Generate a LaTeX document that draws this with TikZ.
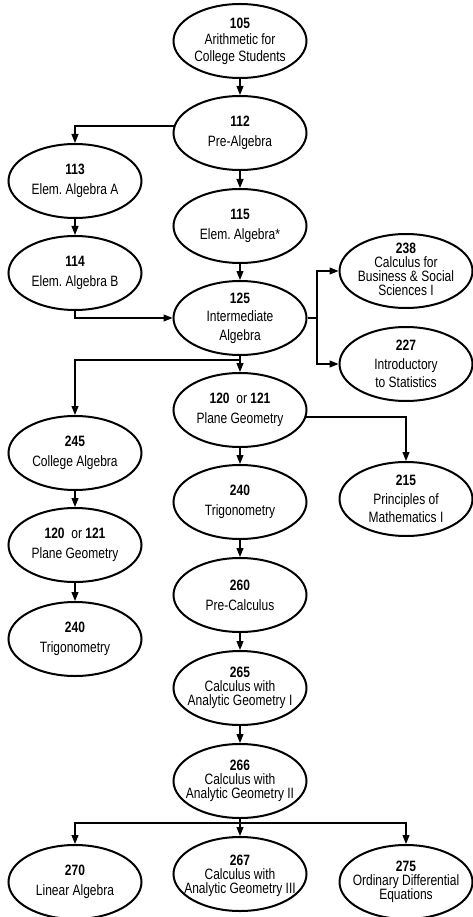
\documentclass[tikz,border=0pt]{standalone}
\usepackage{fontspec}
\setmainfont{Liberation Sans}[FakeStretch=0.8]
\usetikzlibrary{shapes.geometric,arrows.meta}
\frenchspacing
\begin{document}
\begin{tikzpicture}[x=1pt,y=-1pt,
  ell/.style={ellipse,draw,line width=2pt,minimum width=133pt,minimum height=74pt,inner sep=0pt},
  txt/.style={align=center,inner sep=0pt,font=\fontsize{15}{20}\selectfont},
  tl/.style={font=\fontsize{15}{18.5}\selectfont},
  tm/.style={font=\fontsize{15}{16.5}\selectfont},
  tt/.style={font=\fontsize{15}{14}\selectfont},
  con/.style={line width=1.1pt,-{Triangle[length=9pt,width=7pt]}},
  ln/.style={line width=1.1pt}]
\useasboundingbox (0,0) rectangle (473,917);
% ellipses
\node[ell] (e105) at (240,41) {};
\node[ell] (e112) at (240,133) {};
\node[ell] (e113) at (75,181) {};
\node[ell] (e115) at (240,226) {};
\node[ell] (e114) at (75,273) {};
\node[ell] (e125) at (240,318) {};
\node[ell] (e238) at (406,271) {};
\node[ell] (e227) at (406,364) {};
\node[ell] (e120) at (240,410) {};
\node[ell] (e245) at (75,453) {};
\node[ell] (e215) at (406,499) {};
\node[ell] (e240) at (240,502) {};
\node[ell] (e120l) at (75,545) {};
\node[ell] (e260) at (240,595) {};
\node[ell] (e240l) at (75,639) {};
\node[ell] (e265) at (240,688) {};
\node[ell] (e266) at (240,781) {};
\node[ell] (e267) at (240,874) {};
\node[ell] (e270) at (75,882) {};
\node[ell] (e275) at (406,882) {};
% texts
\node[txt,tm] (t105) at (e105) {\textbf{105}\\Arithmetic for\\College Students};
\node[txt] (t112) at (e112) {\textbf{112}\\Pre-Algebra};
\node[txt] (t113) at (e113) {\textbf{113}\\Elem. Algebra A};
\node[txt] (t115) at (e115) {\textbf{115}\\Elem. Algebra*};
\node[txt] (t114) at (e114) {\textbf{114}\\Elem. Algebra B};
\node[txt,tl] (t125) at (e125) {\textbf{125}\\Intermediate\\Algebra};
\node[txt,tt] (t238) at ([yshift=2pt]e238.center) {\textbf{238}\\Calculus for\\Business \& Social\\Sciences I};
\node[txt,tl] (t227) at (e227) {\textbf{227}\\Introductory\\to Statistics};
\node[txt] (t120) at (e120) {\textbf{120}\ \ or \textbf{121}\\Plane Geometry};
\node[txt] (t245) at (e245) {\textbf{245}\\College Algebra};
\node[txt,tl] (t215) at (e215) {\textbf{215}\\Principles of\\Mathematics I};
\node[txt] (t240) at (e240) {\textbf{240}\\Trigonometry};
\node[txt] (t120l) at (e120l) {\textbf{120}\ \ or \textbf{121}\\Plane Geometry};
\node[txt] (t260) at (e260) {\textbf{260}\\Pre-Calculus};
\node[txt] (t240l) at (e240l) {\textbf{240}\\Trigonometry};
\node[txt,tt] (t265) at (e265) {\textbf{265}\\Calculus with\\Analytic Geometry I};
\node[txt,tt] (t266) at (e266) {\textbf{266}\\Calculus with\\Analytic Geometry II};
\node[txt,tt] (t267) at ([yshift=-2pt]e267.center) {\textbf{267}\\Calculus with\\Analytic Geometry III};
\node[txt] (t270) at (e270) {\textbf{270}\\Linear Algebra};
\node[txt,tt] (t275) at (e275) {\textbf{275}\\Ordinary Differential\\Equations};
% junctions
\coordinate (j1) at (317,318);
\coordinate (j2) at (240,360);
\coordinate (j3) at (240,823);
% connectors
\draw[con] (e105) -- (e112);
\draw[con] (e112.174) -| (e113);
\draw[con] (e112) -- (e115);
\draw[con] (e113) -- (e114);
\draw[con] (e115) -- (e125);
\draw[con] (e114) |- (e125);
\draw[ln] (e125) -- (j1);
\draw[con] (j1) |- (e238);
\draw[con] (j1) |- (e227);
\draw[con] (e125) -- (e120);
\draw[con] (j2) -| (e245);
\draw[con] (e120.-6) -| (e215);
\draw[con] (e120) -- (e240);
\draw[con] (e240) -- (e260);
\draw[con] (e260) -- (e265);
\draw[con] (e265) -- (e266);
\draw[con] (e245) -- (e120l);
\draw[con] (e120l) -- (e240l);
\draw[con] (e266) -- (e267);
\draw[ln] (e266) -- (j3);
\draw[con] (j3) -| (e270);
\draw[con] (j3) -| (e275);
\end{tikzpicture}
\end{document}
